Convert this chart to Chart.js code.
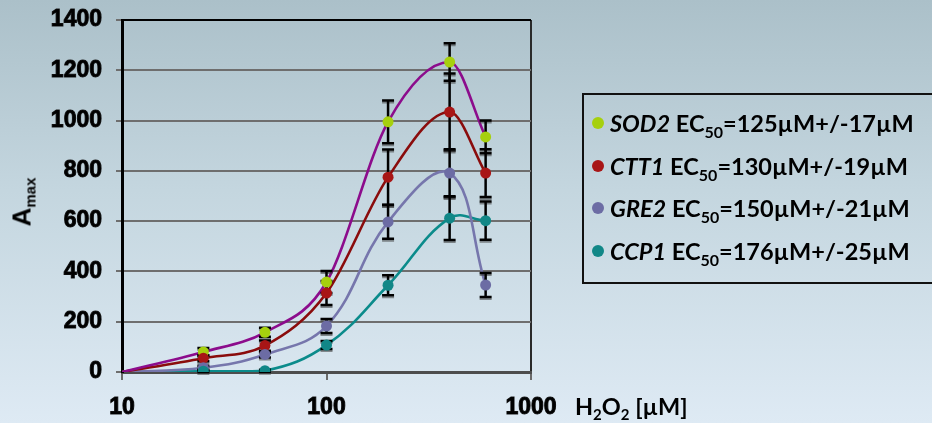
<!DOCTYPE html>
<html>
<head>
<meta charset="utf-8">
<script src="https://cdn.jsdelivr.net/npm/chart.js@4/dist/chart.umd.min.js"></script>
<style>
  html, body { margin: 0; padding: 0; }
  body {
    width: 932px; height: 423px; overflow: hidden; position: relative;
    background: linear-gradient(to bottom, #abc0c9 0%, #c4d6df 45%, #deeaf4 100%);
  }
  #chart { position: absolute; left: 0; top: 0; }
  #ytitle {
    position: absolute; left: 22px; top: 202px;
    transform: translate(-50%, -50%) rotate(-90deg);
    font: bold 26px "Liberation Sans", Arial, sans-serif; color: #000; white-space: nowrap;
  }
  #ytitle sub { font-size: 15px; vertical-align: baseline; position: relative; top: 5px; }
  #xtitle {
    position: absolute; left: 575px; top: 392px;
    font-family: Lato, sans-serif; font-weight: 700; font-size: 23.5px; color: #000; white-space: nowrap;
  }
  #xtitle sub { font-size: 15px; vertical-align: baseline; position: relative; top: 5px; }
  #legend {
    position: absolute; left: 582px; top: 93px; width: 380px; height: 187px;
    border: 2px solid #111;
    font-family: Lato, sans-serif; font-weight: 700; font-size: 23.5px; color: #000;
  }
  #legend .row { position: absolute; left: 0; height: 30px; line-height: 30px; white-space: nowrap; }
  #legend .dot { position: absolute; left: 8px; top: 9px; width: 12px; height: 12px; border-radius: 50%; }
  #legend .txt { position: absolute; left: 26px; top: 0; }
  #legend sub { font-size: 16px; vertical-align: baseline; position: relative; top: 6px; line-height: 0; }
</style>
</head>
<body>
<canvas id="chart" width="932" height="423"></canvas>
<div id="ytitle">A<sub>max</sub></div>
<div id="xtitle">H<sub>2</sub>O<sub>2</sub> [µM]</div>
<div id="legend"></div>
<script>
// H2O2 concentrations (µM) and mean Amax per reporter gene, with +/- errors
const concentrations = [25, 50, 100, 200, 400, 600];
const sod2 = [80, 158, 358, 995, 1233, 935];
const sod2Err = [15, 18, 44, 85, 75, 65];
const ctt1 = [55, 105, 314, 775, 1034, 791];
const ctt1Err = [12, 20, 48, 110, 153, 95];
const gre2 = [17, 70, 183, 597, 791, 346];
const gre2Err = [8, 12, 28, 67, 95, 48];
const ccp1 = [3, 5, 107, 345, 612, 602];
const ccp1Err = [4, 4, 16, 40, 87, 76];

// fitted response curves all start from zero at the lowest concentration
const curveStart = { x: 10, y: 0 };

const geneNames = ['SOD2', 'CTT1', 'GRE2', 'CCP1'];
const ec50 = [125, 130, 150, 176];
const ec50Err = [17, 19, 21, 25];

const xTickValues = [10, 100, 1000];
const yTickValues = [0, 200, 400, 600, 800, 1000, 1200, 1400];

const seriesValues = [sod2, ctt1, gre2, ccp1];
const seriesErrors = [sod2Err, ctt1Err, gre2Err, ccp1Err];
const lineColors = ['#8c0c8c', '#8a0c0c', '#7676ac', '#0b8b8b'];
const markerColors = ['#a6d00e', '#a81616', '#6c6ca4', '#118787'];
const curveModes = ['monotone', 'monotone', 'default', 'default'];

const toPoints = vals => concentrations.map((c, i) => ({ x: c, y: vals[i] }));

const datasets = [];
seriesValues.forEach((vals, s) => {
  datasets.push({
    label: geneNames[s] + ' fit',
    data: [curveStart, ...toPoints(vals)],
    showLine: true,
    borderColor: lineColors[s],
    borderWidth: 2.6,
    tension: 0.4,
    cubicInterpolationMode: curveModes[s],
    pointRadius: 0,
    order: 10
  });
});
seriesValues.forEach((vals, s) => {
  datasets.push({
    label: geneNames[s],
    data: toPoints(vals),
    showLine: false,
    pointRadius: 5.5,
    pointBackgroundColor: markerColors[s],
    pointBorderWidth: 0,
    order: 3 - s
  });
});

// vertical error bars with caps, drawn after the fit curves and under the markers
const errorBars = {
  id: 'errorBars',
  afterDatasetDraw(chart, args) {
    if (args.index !== 0) return;
    const { ctx, scales: { x, y } } = chart;
    ctx.save();
    seriesValues.forEach((vals, s) => {
      vals.forEach((v, i) => {
        const e = seriesErrors[s][i];
        const px = x.getPixelForValue(concentrations[i]);
        const yt = y.getPixelForValue(v + e);
        const yb = y.getPixelForValue(Math.max(0, v - e));
        ctx.strokeStyle = 'rgba(60,60,60,0.55)';
        ctx.lineWidth = 2;
        ctx.beginPath();
        ctx.moveTo(px - 6, yt + 2); ctx.lineTo(px + 6, yt + 2);
        ctx.moveTo(px - 6, yb + 2); ctx.lineTo(px + 6, yb + 2);
        ctx.stroke();
        ctx.strokeStyle = '#000';
        ctx.lineWidth = 2.5;
        ctx.beginPath();
        ctx.moveTo(px, yt); ctx.lineTo(px, yb);
        ctx.moveTo(px - 6, yt); ctx.lineTo(px + 6, yt);
        ctx.moveTo(px - 6, yb); ctx.lineTo(px + 6, yb);
        ctx.stroke();
      });
    });
    ctx.restore();
  }
};

const tickFont = { family: 'Liberation Sans', size: 23, weight: 'bold' };

new Chart(document.getElementById('chart'), {
  type: 'scatter',
  data: { datasets },
  options: {
    responsive: false,
    animation: false,
    layout: { padding: { left: 0, top: 20, right: 401, bottom: 0 } },
    plugins: { legend: { display: false }, tooltip: { enabled: false } },
    scales: {
      x: {
        type: 'logarithmic',
        min: 10, max: 1000,
        afterBuildTicks: s => { s.ticks = xTickValues.map(v => ({ value: v })); },
        afterFit: s => { s.height = 51; s.paddingLeft = 0; s.paddingRight = 0; },
        ticks: {
          callback: v => String(v),
          font: tickFont, color: '#000',
          textStrokeColor: '#1a1a1a', textStrokeWidth: 1,
          padding: 14, maxRotation: 0, autoSkip: false
        },
        grid: {
          color: c => (c.tick && c.tick.value === 1000) ? '#2a2a2a' : 'rgba(0,0,0,0)',
          lineWidth: 2, drawTicks: true, tickLength: 8, tickColor: '#6a6a6a', tickWidth: 2
        },
        border: { color: '#4d4d4d', width: 3 }
      },
      y: {
        min: 0, max: 1400,
        afterBuildTicks: s => { s.ticks = yTickValues.map(v => ({ value: v })); },
        afterFit: s => { s.width = 122; s.paddingTop = 0; s.paddingBottom = 0; },
        ticks: {
          callback: v => String(v),
          font: tickFont, color: '#000',
          textStrokeColor: '#1a1a1a', textStrokeWidth: 1,
          padding: 14
        },
        grid: {
          color: c => (c.tick && c.tick.value === 1400) ? '#000' : '#6e6e6e',
          lineWidth: 2, tickLength: 6, tickColor: '#6e6e6e'
        },
        border: { color: '#000', width: 3 }
      }
    }
  },
  plugins: [errorBars]
});

// legend rows built from the gene list
const legend = document.getElementById('legend');
const rowCenters = [28, 71, 113, 156];
geneNames.forEach((g, s) => {
  const row = document.createElement('div');
  row.className = 'row';
  row.style.top = (rowCenters[s] - 15) + 'px';
  row.innerHTML = '<span class="dot" style="background:' + markerColors[s] + '"></span>' +
    '<span class="txt"><i>' + g + '</i> EC<sub>50</sub>=' + ec50[s] + 'µM+/-' + ec50Err[s] + 'µM</span>';
  legend.appendChild(row);
});
</script>
</body>
</html>
